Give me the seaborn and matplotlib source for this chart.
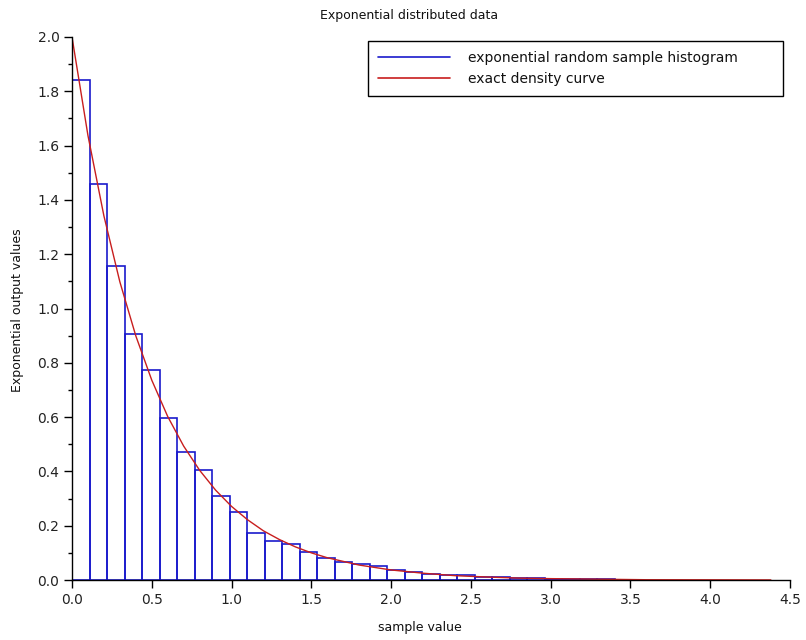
import numpy as np
import pandas as pd
import matplotlib
matplotlib.use("Agg")
import matplotlib.pyplot as plt
from matplotlib.lines import Line2D
from matplotlib.ticker import MultipleLocator
import seaborn as sns

# ---- data ----
bin_width = 0.1097
n_bins = 31
bin_heights = [1.84, 1.46, 1.157, 0.905, 0.772, 0.595, 0.47, 0.405, 0.31, 0.249,
               0.174, 0.145, 0.134, 0.104, 0.080, 0.065, 0.058, 0.050, 0.037, 0.029,
               0.023, 0.020, 0.017, 0.012, 0.010, 0.008, 0.006, 0.004, 0.003, 0.003,
               0.004]
curve_x = [0.0, 0.1, 0.2, 0.3, 0.4, 0.5, 0.6, 0.7, 0.8, 0.9, 1.0, 1.1, 1.2, 1.3,
           1.4, 1.5, 1.6, 1.8, 2.0, 2.2, 2.4, 2.6, 2.8, 3.0, 3.3, 3.6, 4.0, 4.38]
curve_y = [2.0, 1.637, 1.341, 1.098, 0.899, 0.736, 0.602, 0.493, 0.404, 0.331,
           0.271, 0.222, 0.181, 0.149, 0.122, 0.100, 0.082, 0.055, 0.037, 0.025,
           0.016, 0.011, 0.007, 0.005, 0.003, 0.001, 0.0007, 0.0003]
x_ticks = [0.0, 0.5, 1.0, 1.5, 2.0, 2.5, 3.0, 3.5, 4.0, 4.5]
y_ticks = [0.0, 0.2, 0.4, 0.6, 0.8, 1.0, 1.2, 1.4, 1.6, 1.8, 2.0]
title = "Exponential distributed data"
xlabel = "sample value"
ylabel = "Exponential output values"
legend_labels = ["exponential random sample histogram", "exact density curve"]

edges = [i * bin_width for i in range(n_bins + 1)]
centers = [(edges[i] + edges[i + 1]) / 2 for i in range(n_bins)]
hist_df = pd.DataFrame({"x": centers, "w": bin_heights})
curve_df = pd.DataFrame({"x": curve_x, "y": curve_y})

sns.set_style("white")
plt.rcParams["font.family"] = ["DejaVu Sans"]

BLUE = "#1a1acc"
RED = "#c81e1e"

fig = plt.figure(figsize=(8.06, 6.4), dpi=100)
ax = fig.add_axes([72 / 806, 60 / 640, 718 / 806, 543 / 640])

sns.histplot(x=hist_df["x"], weights=hist_df["w"], bins=edges, stat="count",
             element="bars", fill=False, color=BLUE, linewidth=1.2, ax=ax)
sns.lineplot(x=curve_df["x"], y=curve_df["y"], color=RED, linewidth=1.0, ax=ax,
             estimator=None, sort=False)

ax.set_xlim(0, 4.5)
ax.set_ylim(0, 2.0)
ax.set_xticks(x_ticks)
ax.set_xticklabels([f"{v:.1f}" for v in x_ticks])
ax.set_yticks(y_ticks)
ax.set_yticklabels([f"{v:.1f}" for v in y_ticks])
ax.yaxis.set_minor_locator(MultipleLocator(0.1))

for s in ["top", "right"]:
    ax.spines[s].set_visible(False)
for s in ["left", "bottom"]:
    ax.spines[s].set_color("black")
    ax.spines[s].set_linewidth(1.0)

ax.tick_params(axis="both", which="major", direction="out", length=6, width=1,
               color="black", labelsize=10, labelcolor="#222222", pad=3,
               left=True, bottom=True)
ax.tick_params(axis="y", which="minor", direction="out", length=3, width=1,
               color="black", left=True)

ax.set_xlabel("")
ax.set_ylabel("")
fig.text(420 / 806, 1 - 627 / 640, xlabel, ha="center", va="center", fontsize=9,
         color="#111111")
fig.text(18 / 806, 1 - 310 / 640, ylabel, ha="center", va="center", fontsize=9,
         rotation=90, color="#111111")
fig.text(409 / 806, 1 - 16 / 640, title, ha="center", va="center", fontsize=9,
         color="#111111")

handles = [Line2D([0], [0], color=BLUE, lw=1.2), Line2D([0], [0], color=RED, lw=1.2)]
leg = ax.legend(handles, legend_labels, loc="upper left",
                bbox_to_anchor=(296 / 718, 1 - 4 / 543, 415 / 718, 0.0),
                mode="expand", fontsize=10, frameon=True, fancybox=False,
                edgecolor="black", framealpha=1, handlelength=5.18,
                handletextpad=1.3, borderpad=0.74, labelspacing=0.46,
                borderaxespad=0)
leg.get_frame().set_linewidth(1.0)
for t in leg.get_texts():
    t.set_color("#111111")

fig.savefig("out.png", dpi=100)
